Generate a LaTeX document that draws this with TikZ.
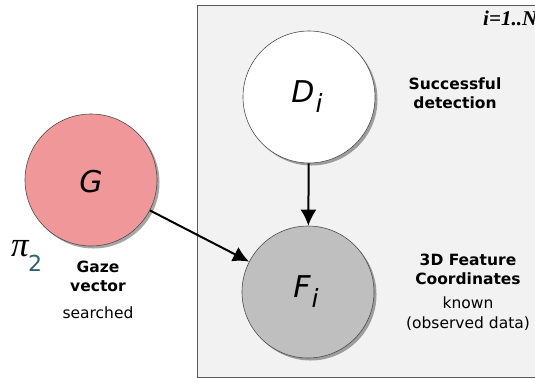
\documentclass[tikz,border=0pt]{standalone}
\usepackage{fontspec}
\setmainfont{DejaVu Sans}
\newfontfamily\serifit{Liberation Serif}
\usetikzlibrary{arrows.meta,shadows}
\definecolor{platebg}{HTML}{F2F2F2}
\definecolor{gazefill}{HTML}{F0979A}
\definecolor{featfill}{HTML}{BFBFBF}
\definecolor{pisub}{HTML}{2A6070}
\tikzset{
  rv/.style={circle, draw=black!70, line width=0.6bp, minimum size=132bp, inner sep=0pt,
    drop shadow={shadow xshift=2.5bp, shadow yshift=-2.5bp, opacity=0.35, fill=black}},
  edge/.style={line width=2bp, -{Latex[length=16bp,width=16bp]}},
  lbl/.style={font=\fontsize{15.5bp}{19bp}\selectfont\bfseries, align=center},
  sub/.style={font=\fontsize{15.5bp}{20bp}\selectfont, align=center},
  big/.style={font=\fontsize{30bp}{30bp}\selectfont\itshape}
}
\begin{document}
\begin{tikzpicture}[x=1bp,y=-1bp]
\useasboundingbox (0,0) rectangle (535,381);
\fill[white] (0,0) rectangle (535,381);
\clip (0,0) rectangle (535,381);
\draw[fill=platebg, draw=black!65, line width=1bp] (197,5) rectangle (560,377);
\node[anchor=base west, inner sep=0pt, font=\fontsize{21bp}{22bp}\selectfont\serifit\bfseries\itshape] (plate) at (483,25) {i=1..N};

\node[rv, fill=white] (D) at (309,97) {};
\node[rv, fill=gazefill] (G) at (91,180) {};
\node[rv, fill=featfill] (F) at (308,292) {};

\node[big] (Dt) at (307,97) {D\kern1bp\raisebox{-10bp}{\fontsize{25bp}{25bp}\selectfont i}};
\node[big] (Gt) at (91,182) {G};
\node[big] (Ft) at (306,292) {F\kern1bp\raisebox{-10bp}{\fontsize{25bp}{25bp}\selectfont i}};

\draw[edge] (D) -- (F);
\draw[edge] (G) -- (F);

\node[anchor=base west, inner sep=0pt, font=\fontsize{35bp}{35bp}\selectfont\serifit\itshape] (pi) at (11,256) {π};
\node[anchor=base west, inner sep=0pt, text=pisub, font=\fontsize{22bp}{22bp}\selectfont] (pisubn) at (28,271) {2};
\node[lbl] (gz) at (98,276) {Gaze\\vector};
\node[sub] (gs) at (98,313) {searched};

\node[lbl] (sd) at (455,93) {Successful\\detection};
\node[lbl] (fc) at (468,269) {3D Feature\\Coordinates};
\node[sub] (kn) at (468,314) {known\\(observed data)};
\end{tikzpicture}
\end{document}
